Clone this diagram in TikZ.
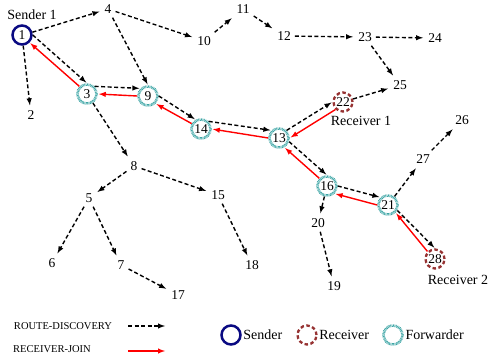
\documentclass[tikz,border=0pt]{standalone}
\usepackage{fontspec}
\setmainfont{Liberation Serif}
\usetikzlibrary{arrows,positioning}
\definecolor{navy}{RGB}{10,10,130}
\definecolor{rcvred}{RGB}{150,50,50}
\definecolor{fwdteal}{RGB}{60,165,165}
\tikzset{num/.style={
            inner sep=4pt,
            font=\fontsize{13.5}{15}\selectfont
        },
        sender/.style={
            draw=navy,
            circle,
            line width=2.5pt,
            minimum size=19pt,
            inner sep=0pt,
            font=\fontsize{13.5}{15}\selectfont
        },
        receiver/.style={
            draw=rcvred,
            circle,
            line width=2.3pt,
            dash pattern=on 3.5pt off 2.5pt,
            minimum size=19pt,
            inner sep=0pt,
            font=\fontsize{13.5}{15}\selectfont
        },
        forwarder/.style={
            draw=fwdteal,
            circle,
            line width=2.6pt,
            dash pattern=on 0.7pt off 0.7pt,
            minimum size=19pt,
            inner sep=0pt,
            font=\fontsize{13.5}{15}\selectfont
        },
        tag/.style={
            inner sep=1pt,
            font=\fontsize{14}{16}\selectfont
        },
        legend/.style={
            inner sep=1pt,
            font=\fontsize{10.5}{13}\selectfont
        },
        discovery/.style={
            ->,
            >=latex,
            line width=1.4pt,
            dash pattern=on 4pt off 2.5pt,
            shorten >=1pt
        },
        joinarrow/.style={
            ->,
            >=latex,
            line width=1.4pt,
            red,
            shorten >=1pt
        }
    }
\begin{document}
\begin{tikzpicture}[x=1pt,y=-1pt]
\useasboundingbox (0,0) rectangle (491,358);
% nodes
\node[sender] (n1) at (22,35) {1};
\node[num] (n2) at (31,115) {2};
\node[forwarder] (n3) at (87,94) {3};
\node[num] (n4) at (108,9) {4};
\node[num] (n5) at (89,198) {5};
\node[num] (n6) at (52,263) {6};
\node[num] (n7) at (121,265) {7};
\node[num] (n8) at (134,166) {8};
\node[forwarder] (n9) at (148,96) {9};
\node[num] (n10) at (204,41) {10};
\node[num] (n11) at (243,9) {11};
\node[num] (n12) at (284,36) {12};
\node[forwarder] (n13) at (279,138) {13};
\node[forwarder] (n14) at (201,129) {14};
\node[num] (n15) at (218,195) {15};
\node[forwarder] (n16) at (327,186) {16};
\node[num] (n17) at (178,295) {17};
\node[num] (n18) at (252,265) {18};
\node[num] (n19) at (334,286) {19};
\node[num] (n20) at (318,223) {20};
\node[forwarder] (n21) at (388,205) {21};
\node[receiver] (n22) at (343,102) {22};
\node[num] (n23) at (365,37) {23};
\node[num] (n24) at (435,38) {24};
\node[num] (n25) at (400,85) {25};
\node[num] (n26) at (462,120) {26};
\node[num] (n27) at (423,159) {27};
\node[receiver] (n28) at (435,259) {28};
\node[tag] (snd1) at (32,15) {Sender 1};
\node[tag] (rcv1) at (361,121) {Receiver 1};
\node[tag] (rcv2) at (458,280) {Receiver 2};
% route discovery
\draw[discovery] (n1.15) -- (n4);
\draw[discovery] (n1.east) -- (n3.north);
\draw[discovery] (n1) -- (n2);
\draw[discovery] (n4) -- (n9.north);
\draw[discovery] (n4) -- (n10);
\draw[discovery] (n10) -- (n11);
\draw[discovery] (n11) -- (n12);
\draw[discovery] (n12) -- (n23);
\draw[discovery] (n23) -- (n24);
\draw[discovery] (n23) -- (n25);
\draw[discovery] (n3.north east) -- (n9.north west);
\draw[discovery] (n3) -- (n8);
\draw[discovery] (n9.east) -- (n14.120);
\draw[discovery] (n14.north east) -- (n13.north west);
\draw[discovery] (n13.north east) -- (n22.west);
\draw[discovery] (n22) -- (n25);
\draw[discovery] (n13.-20) -- (n16.north);
\draw[discovery] (n16.east) -- (n21.north west);
\draw[discovery] (n16) -- (n20);
\draw[discovery] (n20) -- (n19);
\draw[discovery] (n21) -- (n27);
\draw[discovery] (n27) -- (n26);
\draw[discovery] (n21.-30) -- (n28.north);
\draw[discovery] (n8) -- (n5);
\draw[discovery] (n8) -- (n15);
\draw[discovery] (n5) -- (n6);
\draw[discovery] (n5) -- (n7);
\draw[discovery] (n7) -- (n17);
\draw[discovery] (n15) -- (n18);
% receiver join
\draw[joinarrow] (n3.north west) -- (n1.south east);
\draw[joinarrow] (n9.west) -- (n3.east);
\draw[joinarrow] (n14.150) -- (n9.south east);
\draw[joinarrow] (n13.west) -- (n14.east);
\draw[joinarrow] (n22.south west) -- (n13.east);
\draw[joinarrow] (n16.north west) -- (n13.-60);
\draw[joinarrow] (n21.west) -- (n16.south east);
\draw[joinarrow] (n28.north west) -- (n21.south east);
% legend
\node[legend] (lgdisc) at (63,326) {ROUTE-DISCOVERY};
\node[legend] (lgjoin) at (52,349) {RECEIVER-JOIN};
\coordinate (da) at (128,326);
\coordinate (db) at (166,326);
\coordinate (ja) at (128,351);
\coordinate (jb) at (166,351);
\draw[discovery] (da) -- (db);
\draw[joinarrow] (ja) -- (jb);
\node[sender] (lgsnd) at (231,335) {};
\node[tag, right=0.5pt of lgsnd] (lgsndtxt) {Sender};
\node[receiver] (lgrcv) at (307,335) {};
\node[tag, right=0.5pt of lgrcv] (lgrcvtxt) {Receiver};
\node[forwarder] (lgfwd) at (393,335) {};
\node[tag, right=0.5pt of lgfwd] (lgfwdtxt) {Forwarder};
\end{tikzpicture}
\end{document}
